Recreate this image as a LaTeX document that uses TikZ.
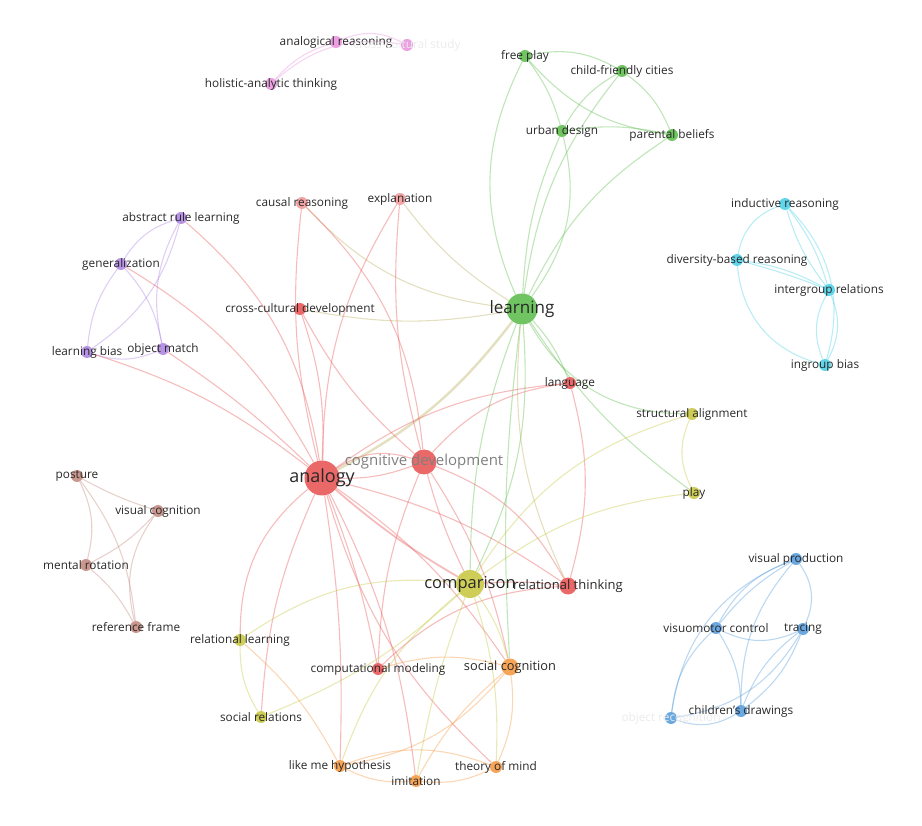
\documentclass[tikz,border=0pt]{standalone}
\usepackage{fontspec}
\setmainfont{Open Sans}
\usetikzlibrary{positioning}
\definecolor{cRed}{RGB}{232,88,88}
\definecolor{cGreen}{RGB}{96,190,80}
\definecolor{cOlive}{RGB}{200,200,70}
\definecolor{cOrange}{RGB}{245,155,70}
\definecolor{cPurple}{RGB}{175,135,225}
\definecolor{cBrown}{RGB}{196,140,130}
\definecolor{cBlue}{RGB}{90,158,220}
\definecolor{cCyan}{RGB}{80,210,232}
\definecolor{cPink}{RGB}{232,150,222}
\definecolor{cTan}{RGB}{185,175,95}
\definecolor{txt}{RGB}{40,40,40}
\pgfdeclarelayer{links}
\pgfsetlayers{links,main}
\tikzset{
  kw/.style={circle, fill=#1, fill opacity=0.9, inner sep=0pt, minimum size=12pt},
  lnk/.style={draw=#1, draw opacity=0.4, line width=1.1pt},
  lbl/.style={font=\fontsize{11.8}{14}\selectfont, text=txt, inner sep=0pt},
}

\begin{document}
\begin{tikzpicture}[x=1pt, y=-1pt]
\useasboundingbox (0,0) rectangle (922,826);

% pink
\node[kw=cPink] (anr) at (336,42) {};
\node[kw=cPink] (ccs) at (407,45) {};
\node[kw=cPink] (hat) at (271,84) {};
% green
\node[kw=cGreen] (fpl) at (525,56) {};
\node[kw=cGreen] (cfc) at (622,71) {};
\node[kw=cGreen] (urb) at (562,131) {};
\node[kw=cGreen] (par) at (672,135) {};
\node[kw=cGreen, minimum size=31pt] (lrn) at (522,309) {};
% cyan
\node[kw=cCyan] (ind) at (785,204) {};
\node[kw=cCyan] (div) at (737,260) {};
\node[kw=cCyan] (igr) at (829,290) {};
\node[kw=cCyan] (igb) at (825,365) {};
% red
\node[kw=cRed!60] (cau) at (302,203) {};
\node[kw=cRed!60] (exp) at (400,199) {};
\node[kw=cRed] (ccd) at (300,309) {};
\node[kw=cRed] (lan) at (570,383) {};
\node[kw=cRed, minimum size=35pt] (ana) at (322,478) {};
\node[kw=cRed, minimum size=25pt] (cog) at (424,462) {};
\node[kw=cRed, minimum size=17pt] (rth) at (568,586) {};
\node[kw=cRed] (cmp) at (378,669) {};
% purple
\node[kw=cPurple] (arl) at (181,218) {};
\node[kw=cPurple] (gen) at (121,264) {};
\node[kw=cPurple] (lbi) at (87,352) {};
\node[kw=cPurple] (obm) at (163,349) {};
% brown
\node[kw=cBrown] (pos) at (77,476) {};
\node[kw=cBrown] (vco) at (158,511) {};
\node[kw=cBrown] (mro) at (86,565) {};
\node[kw=cBrown] (ref) at (136,627) {};
% olive
\node[kw=cOlive] (str) at (692,414) {};
\node[kw=cOlive] (ply) at (694,493) {};
\node[kw=cOlive, minimum size=28pt] (com) at (470,584) {};
\node[kw=cOlive] (rle) at (240,640) {};
\node[kw=cOlive] (sre) at (261,717) {};
% orange
\node[kw=cOrange, minimum size=17pt] (soc) at (510,667) {};
\node[kw=cOrange] (lmh) at (340,766) {};
\node[kw=cOrange] (imi) at (416,781) {};
\node[kw=cOrange] (tom) at (496,767) {};
% blue
\node[kw=cBlue] (vpr) at (796,559) {};
\node[kw=cBlue] (vmc) at (716,628) {};
\node[kw=cBlue] (trc) at (803,629) {};
\node[kw=cBlue] (chd) at (741,711) {};
\node[kw=cBlue] (obr) at (671,718) {};

\begin{pgfonlayer}{links}
\path
% pink
(anr) edge[lnk=cPink, bend left=25] (ccs)
(hat) edge[lnk=cPink, bend left=15] (anr)
(hat) edge[lnk=cPink, bend left=25] (ccs)
% green
(fpl) edge[lnk=cGreen, bend left=20] (cfc)
(fpl) edge[lnk=cGreen, bend left=10] (urb)
(fpl) edge[lnk=cGreen, bend right=20] (par)
(cfc) edge[lnk=cGreen, bend right=15] (urb)
(cfc) edge[lnk=cGreen, bend left=15] (par)
(urb) edge[lnk=cGreen, bend left=10] (par)
(lrn) edge[lnk=cGreen, bend left=25] (fpl)
(lrn) edge[lnk=cGreen, bend left=10] (urb)
(lrn) edge[lnk=cGreen, bend left=15] (cfc)
(lrn) edge[lnk=cGreen, bend left=15] (par)
(lrn) edge[lnk=cGreen, bend right=25] (urb)
(lrn) edge[lnk=cTan, bend left=10] (ccd)
(lrn) edge[lnk=cTan, bend left=20] (cau)
(lrn) edge[lnk=cTan, bend left=10] (exp)
(lrn) edge[lnk=cTan, line width=2.4pt, bend left=12] (ana)
(lrn) edge[lnk=cGreen, bend left=10] (lan)
(lrn) edge[lnk=cGreen, bend right=30] (str)
(lrn) edge[lnk=cGreen, bend right=10] (ply)
(lrn) edge[lnk=cGreen, bend left=15] (com)
(lrn) edge[lnk=cGreen, bend right=10] (com)
(lrn) edge[lnk=cTan, bend right=15] (rth)
(lrn) edge[lnk=cGreen, bend right=5] (soc)
% cyan
(ind) edge[lnk=cCyan, bend right=30] (div)
(ind) edge[lnk=cCyan, bend left=10] (igr)
(ind) edge[lnk=cCyan, bend right=10] (igr)
(ind) edge[lnk=cCyan, bend left=30] (igb)
(div) edge[lnk=cCyan, bend left=10] (igr)
(div) edge[lnk=cCyan, bend left=3] (igr)
(div) edge[lnk=cCyan, bend right=35] (igb)
(igr) edge[lnk=cCyan, bend left=25] (igb)
(igr) edge[lnk=cCyan, bend right=25] (igb)
% purple
(arl) edge[lnk=cPurple, bend right=20] (gen)
(arl) edge[lnk=cPurple, bend left=20] (lbi)
(arl) edge[lnk=cPurple, bend right=20] (obm)
(gen) edge[lnk=cPurple, bend right=15] (lbi)
(gen) edge[lnk=cPurple, bend left=15] (obm)
(lbi) edge[lnk=cPurple, bend right=20] (obm)
(arl) edge[lnk=cRed, bend left=20] (ana)
(gen) edge[lnk=cRed, bend left=15] (ana)
(obm) edge[lnk=cRed, bend left=5] (ana)
(lbi) edge[lnk=cRed, bend left=10] (ana)
% brown
(pos) edge[lnk=cBrown, bend right=5] (vco)
(pos) edge[lnk=cBrown, bend left=20] (mro)
(pos) edge[lnk=cBrown, bend left=15] (ref)
(vco) edge[lnk=cBrown, bend left=10] (mro)
(vco) edge[lnk=cBrown, bend right=25] (ref)
(mro) edge[lnk=cBrown, bend left=10] (ref)
% red
(ana) edge[lnk=cRed, bend left=10] (cau)
(ana) edge[lnk=cRed, bend left=15] (exp)
(cog) edge[lnk=cRed, bend right=20] (cau)
(cog) edge[lnk=cRed, bend left=10] (exp)
(ana) edge[lnk=cRed, bend right=10] (ccd)
(cog) edge[lnk=cRed, bend left=10] (ccd)
(ana) edge[lnk=cRed, bend left=25] (cog)
(ana) edge[lnk=cRed, bend right=10] (cog)
(ana) edge[lnk=cRed, bend left=15] (lan)
(cog) edge[lnk=cRed, bend left=20] (lan)
(ana) edge[lnk=cRed, bend left=10] (rth)
(cog) edge[lnk=cRed, bend left=20] (rth)
(ana) edge[lnk=cRed, line width=1.8pt, bend right=5] (com)
(ana) edge[lnk=cRed, bend left=5] (cmp)
(ana) edge[lnk=cRed, bend left=10] (soc)
(ana) edge[lnk=cRed, bend right=15] (tom)
(ana) edge[lnk=cRed, bend left=10] (imi)
(ana) edge[lnk=cRed, bend left=5] (lmh)
(ana) edge[lnk=cRed, bend right=25] (rle)
(ana) edge[lnk=cRed, bend right=10] (sre)
(cog) edge[lnk=cRed, bend right=5] (com)
(cog) edge[lnk=cRed, bend left=10] (soc)
(cog) edge[lnk=cRed, bend right=10] (cmp)
(lan) edge[lnk=cRed, bend left=15] (rth)
(com) edge[lnk=cRed, bend left=5] (rth)
(rth) edge[lnk=cRed, bend right=20] (cmp)
% olive
(com) edge[lnk=cOlive, bend left=20] (str)
(com) edge[lnk=cOlive, bend left=15] (ply)
(str) edge[lnk=cOlive, bend right=25] (ply)
(com) edge[lnk=cOlive, bend right=20] (rle)
(com) edge[lnk=cOlive, bend left=10] (sre)
(rle) edge[lnk=cOlive, bend right=15] (sre)
(com) edge[lnk=cOlive, bend left=10] (soc)
(com) edge[lnk=cOlive, bend right=15] (lmh)
(com) edge[lnk=cOlive, bend left=10] (tom)
(com) edge[lnk=cOlive, bend right=5] (imi)
% orange
(soc) edge[lnk=cOrange, bend left=20] (lmh)
(soc) edge[lnk=cOrange, bend right=10] (imi)
(soc) edge[lnk=cOrange, bend left=15] (tom)
(lmh) edge[lnk=cOrange, bend right=15] (imi)
(lmh) edge[lnk=cOrange, bend left=20] (tom)
(imi) edge[lnk=cOrange, bend right=15] (tom)
(soc) edge[lnk=cOrange, bend right=15] (cmp)
(rle) edge[lnk=cOrange, bend left=10] (lmh)
% blue
(vpr) edge[lnk=cBlue, bend right=20] (vmc)
(vpr) edge[lnk=cBlue, bend right=10] (vmc)
(vpr) edge[lnk=cBlue, bend left=30] (trc)
(vpr) edge[lnk=cBlue, bend right=20] (chd)
(vpr) edge[lnk=cBlue, bend right=30] (obr)
(vmc) edge[lnk=cBlue, bend right=25] (trc)
(vmc) edge[lnk=cBlue, bend left=15] (chd)
(vmc) edge[lnk=cBlue, bend right=20] (obr)
(trc) edge[lnk=cBlue, bend left=15] (chd)
(trc) edge[lnk=cBlue, bend right=15] (chd)
(trc) edge[lnk=cBlue, bend left=25] (obr)
(chd) edge[lnk=cBlue, bend left=25] (obr);
\end{pgfonlayer}

% labels
\node[lbl] (anr-l) at (anr) {analogical reasoning};
\node[lbl, text=black!8] (ccs-l) at (ccs) {cross-cultural study};
\node[lbl] (hat-l) at (hat) {holistic-analytic thinking};
\node[lbl] (fpl-l) at (fpl) {free play};
\node[lbl] (cfc-l) at (cfc) {child-friendly cities};
\node[lbl] (urb-l) at (urb) {urban design};
\node[lbl] (par-l) at (par) {parental beliefs};
\node[lbl, font=\fontsize{17}{19}\selectfont] (lrn-l) at (lrn) {learning};
\node[lbl] (ind-l) at (ind) {inductive reasoning};
\node[lbl] (div-l) at (div) {diversity-based reasoning};
\node[lbl] (igr-l) at (igr) {intergroup relations};
\node[lbl] (igb-l) at (igb) {ingroup bias};
\node[lbl] (cau-l) at (cau) {causal reasoning};
\node[lbl] (exp-l) at (exp) {explanation};
\node[lbl] (ccd-l) at (ccd) {cross-cultural development};
\node[lbl] (lan-l) at (lan) {language};
\node[lbl, font=\fontsize{18}{20}\selectfont] (ana-l) at (ana) {analogy};
\node[lbl, text=black!50, font=\fontsize{15}{17}\selectfont] (cog-l) at (cog) {cognitive development};
\node[lbl, font=\fontsize{13}{15}\selectfont] (rth-l) at (rth) {relational thinking};
\node[lbl] (cmp-l) at (cmp) {computational modeling};
\node[lbl] (arl-l) at (arl) {abstract rule learning};
\node[lbl] (gen-l) at (gen) {generalization};
\node[lbl] (lbi-l) at (lbi) {learning bias};
\node[lbl] (obm-l) at (obm) {object match};
\node[lbl] (pos-l) at (pos) {posture};
\node[lbl] (vco-l) at (vco) {visual cognition};
\node[lbl] (mro-l) at (mro) {mental rotation};
\node[lbl] (ref-l) at (ref) {reference frame};
\node[lbl] (str-l) at (str) {structural alignment};
\node[lbl] (ply-l) at (ply) {play};
\node[lbl, font=\fontsize{16.5}{18}\selectfont] (com-l) at (com) {comparison};
\node[lbl] (rle-l) at (rle) {relational learning};
\node[lbl] (sre-l) at (sre) {social relations};
\node[lbl, font=\fontsize{12.8}{15}\selectfont] (soc-l) at (soc) {social cognition};
\node[lbl] (lmh-l) at (lmh) {like me hypothesis};
\node[lbl] (imi-l) at (imi) {imitation};
\node[lbl] (tom-l) at (tom) {theory of mind};
\node[lbl] (vpr-l) at (vpr) {visual production};
\node[lbl] (vmc-l) at (vmc) {visuomotor control};
\node[lbl] (trc-l) at (trc) {tracing};
\node[lbl] (chd-l) at (chd) {children’s drawings};
\node[lbl, text=black!8] (obr-l) at (obr) {object recognition};
\end{tikzpicture}
\end{document}
